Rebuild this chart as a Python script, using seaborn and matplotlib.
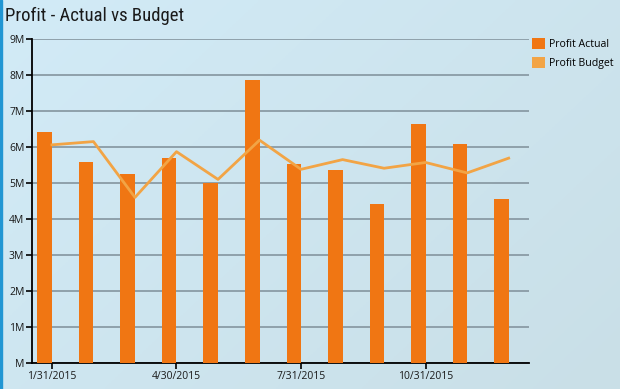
import matplotlib
matplotlib.use("Agg")
import matplotlib.pyplot as plt
import matplotlib.ticker as mticker
from matplotlib import font_manager
from matplotlib.patches import Patch, Rectangle
import seaborn as sns
import numpy as np
import pandas as pd

# data (values in millions)
months = ["1/31/2015", "2/28/2015", "3/31/2015", "4/30/2015", "5/31/2015", "6/30/2015",
          "7/31/2015", "8/31/2015", "9/30/2015", "10/31/2015", "11/30/2015", "12/31/2015"]
profit_actual = [6.42, 5.58, 5.25, 5.69, 5.00, 7.86, 5.53, 5.36, 4.42, 6.64, 6.08, 4.56]
profit_budget = [6.06, 6.15, 4.60, 5.87, 5.10, 6.19, 5.38, 5.65, 5.41, 5.57, 5.28, 5.69]
tick_months = ["1/31/2015", "4/30/2015", "7/31/2015", "10/31/2015"]

installed = {f.name for f in font_manager.fontManager.ttflist}
def pick(*names):
    for n in names:
        if n in installed:
            return n
    return "DejaVu Sans"

title_font = pick("Roboto Condensed", "Liberation Sans Narrow", "Open Sans")
body_font = pick("Open Sans", "Noto Sans", "DejaVu Sans")
plt.rcParams["font.family"] = [body_font, "DejaVu Sans"]

bar_color = "#f07613"
line_color = "#f2a445"

df = pd.DataFrame({"month": months,
                   "actual": np.array(profit_actual) * 1e6,
                   "budget": np.array(profit_budget) * 1e6})
df["pos"] = np.arange(len(df), dtype=float)
df["bar_pos"] = df["pos"] - 0.175

fig = plt.figure(figsize=(6.2, 3.89), dpi=100)

# gradient background
bg = fig.add_axes([0, 0, 1, 1], zorder=-10)
gx, gy = np.meshgrid(np.linspace(0, 1, 200), np.linspace(0, 1, 200))
t = (gx * 0.6 + gy * 0.4)
c0 = np.array([210, 235, 247]) / 255
c1 = np.array([201, 223, 231]) / 255
img = c0[None, None, :] * (1 - t[..., None]) + c1[None, None, :] * t[..., None]
bg.imshow(img, aspect="auto", extent=[0, 1, 0, 1], origin="upper")
bg.set_axis_off()
fig.patches.append(Rectangle((0, 0), 1.5 / 620, 1, transform=fig.transFigure,
                             color="#2196d3", zorder=5))

ax = fig.add_axes([32 / 620, 1 - 363 / 389, (529 - 32) / 620, (363 - 39) / 389])
ax.patch.set_alpha(0)

sns.barplot(data=df, x="bar_pos", y="actual", native_scale=True, width=0.35,
            color=bar_color, saturation=1, errorbar=None, ax=ax, zorder=3)
sns.lineplot(data=df, x="pos", y="budget", color=line_color, linewidth=2, ax=ax, zorder=4)

ax.set_xlim(-0.48, 11.49)
ax.set_ylim(0, 9e6)
ax.set_yticks(np.arange(0, 10) * 1e6)
ax.yaxis.set_major_formatter(mticker.FuncFormatter(
    lambda v, p: "M" if v == 0 else f"{int(round(v / 1e6))}M"))
ax.set_xticks([months.index(m) for m in tick_months])
ax.set_xticklabels(tick_months)
ax.set_xlabel("")
ax.set_ylabel("")

ax.grid(axis="y", color="#8a9ba5", linewidth=1.3, zorder=0)
ax.grid(axis="x", visible=False)
ax.set_axisbelow(True)
for s in ["top", "right"]:
    ax.spines[s].set_visible(False)
for s in ["left", "bottom"]:
    ax.spines[s].set_color("black")
    ax.spines[s].set_linewidth(1.3)
ax.tick_params(axis="both", colors="black", labelcolor="#1a1a1a", labelsize=7.5,
               length=4, width=1.2, pad=1.5)

handles = [Patch(facecolor=bar_color, label="Profit Actual"),
           Patch(facecolor=line_color, label="Profit Budget")]
fig.legend(handles=handles, loc="upper left", bbox_to_anchor=(532 / 620, 1 - 38 / 389),
           frameon=False, fontsize=7.6, handlelength=1.2, handleheight=1.2,
           handletextpad=0.45, labelspacing=0.65, borderaxespad=0, borderpad=0)

fig.text(5 / 620, 1 - 21 / 389, "Profit - Actual vs Budget", family=title_font,
         fontsize=13.5, color="#1a1a1a", va="baseline", ha="left")

fig.savefig("out.png", dpi=100)
